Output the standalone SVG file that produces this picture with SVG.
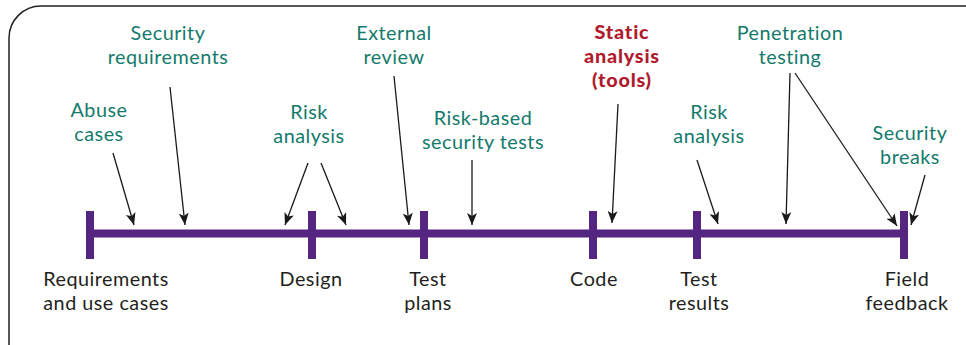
<svg xmlns="http://www.w3.org/2000/svg" width="966" height="345" viewBox="0 0 966 345">
<defs>
<marker id="ah" markerUnits="userSpaceOnUse" markerWidth="13" markerHeight="10" refX="12" refY="5" orient="auto">
<path d="M0,0 L12,5 L0,10 L3,5 z" fill="#1a1a1a"/>
</marker>
<style>
.t{font-family:Lato,"Liberation Sans",sans-serif;font-size:19.8px;text-anchor:middle;letter-spacing:0.5px}
.g{fill:#137a6c}
.d{fill:#231f20}
.r{fill:#b01c2e;font-weight:900;letter-spacing:0.8px}
.a{stroke:#1a1a1a;stroke-width:1.3;fill:none;marker-end:url(#ah)}
.tk{stroke:#542581;stroke-width:8;fill:none}
</style>
</defs>
<rect width="966" height="345" fill="#ffffff"/>
<path d="M9,345 V38 A32,32 0 0 1 41,6 H966" fill="none" stroke="#231f20" stroke-width="1.5"/>
<g id="timeline">
<line class="tk" x1="90" y1="233.5" x2="904" y2="233.5" stroke-width="7"/>
</g>
<g id="req"><line class="tk" x1="90" y1="211" x2="90" y2="259"/>
<text class="t d" x="106" y="286">Requirements<tspan x="106" dy="24">and use cases</tspan></text></g>
<g id="design"><line class="tk" x1="312" y1="211" x2="312" y2="259"/>
<text class="t d" x="311" y="286">Design</text></g>
<g id="testplans"><line class="tk" x1="424" y1="211" x2="424" y2="259"/>
<text class="t d" x="428" y="286">Test<tspan x="428" dy="24">plans</tspan></text></g>
<g id="code"><line class="tk" x1="593" y1="211" x2="593" y2="259"/>
<text class="t d" x="594" y="286">Code</text></g>
<g id="testresults"><line class="tk" x1="697" y1="211" x2="697" y2="259"/>
<text class="t d" x="699" y="286">Test<tspan x="699" dy="24">results</tspan></text></g>
<g id="field"><line class="tk" x1="904" y1="211" x2="904" y2="259"/>
<text class="t d" x="907" y="286">Field<tspan x="907" dy="24">feedback</tspan></text></g>
<g id="secreq"><text class="t g" x="168" y="40">Security<tspan x="168" dy="24">requirements</tspan></text></g>
<g id="abuse"><text class="t g" x="99" y="117">Abuse<tspan x="99" dy="24">cases</tspan></text></g>
<g id="risk1"><text class="t g" x="309" y="119">Risk<tspan x="309" dy="24">analysis</tspan></text></g>
<g id="external"><text class="t g" x="394" y="40">External<tspan x="394" dy="24">review</tspan></text></g>
<g id="riskbased"><text class="t g" x="483" y="125">Risk-based<tspan x="483" dy="24">security tests</tspan></text></g>
<g id="static"><text class="t r" x="622" y="39">Static<tspan x="622" dy="24">analysis</tspan><tspan x="622" dy="24">(tools)</tspan></text></g>
<g id="risk2"><text class="t g" x="709" y="119">Risk<tspan x="709" dy="24">analysis</tspan></text></g>
<g id="pen"><text class="t g" x="790" y="40">Penetration<tspan x="790" dy="24">testing</tspan></text></g>
<g id="breaks"><text class="t g" x="910" y="140">Security<tspan x="910" dy="24">breaks</tspan></text></g>
<g id="connectors">
<line class="a" x1="113" y1="153" x2="134" y2="225"/>
<line class="a" x1="170" y1="87" x2="185" y2="225"/>
<line class="a" x1="308" y1="163" x2="285" y2="225"/>
<line class="a" x1="321" y1="163" x2="346" y2="225"/>
<line class="a" x1="394" y1="76" x2="409" y2="225"/>
<line class="a" x1="472" y1="160" x2="472" y2="225"/>
<line class="a" x1="618" y1="104" x2="612" y2="223"/>
<line class="a" x1="697" y1="160" x2="718" y2="224"/>
<line class="a" x1="790" y1="73" x2="786" y2="224"/>
<line class="a" x1="795" y1="73" x2="897" y2="226"/>
<line class="a" x1="925" y1="175" x2="911" y2="225"/>
</g>
</svg>
